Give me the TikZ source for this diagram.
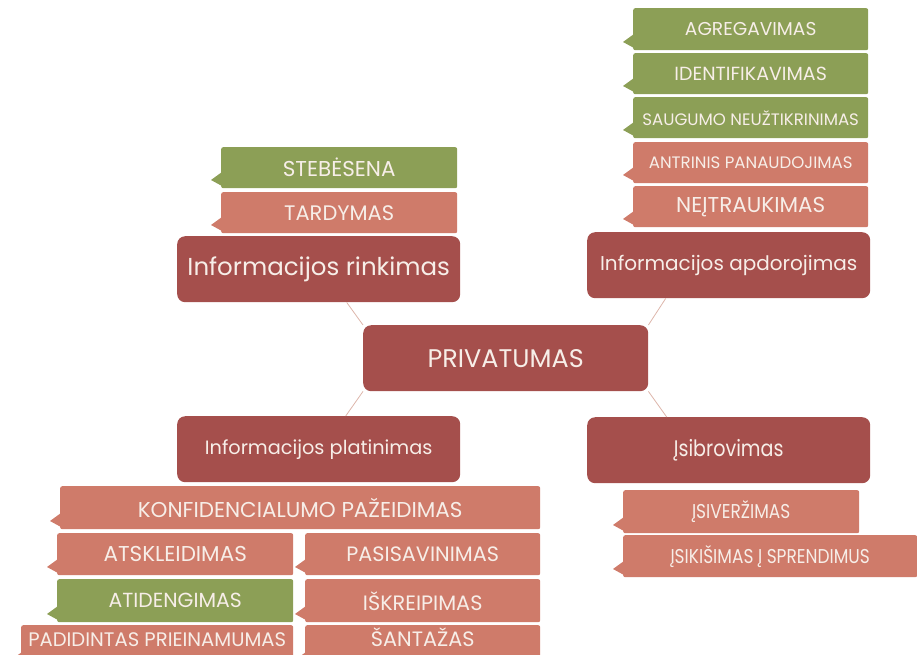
\documentclass[tikz,border=0pt]{standalone}
\usepackage{fontspec}
\setmainfont{Poppins}
\usetikzlibrary{calc}

\definecolor{darkred}{HTML}{A54F4C}
\definecolor{salmon}{HTML}{CF7B6A}
\definecolor{olive}{HTML}{8C9F56}
\definecolor{linkline}{HTML}{DDB6AB}
\definecolor{boxtext}{HTML}{F7EEE8}

\tikzset{
  mainbox/.style={fill=darkred, rounded corners=8pt, text=boxtext, inner sep=0pt},
  tabbox/.style={rounded corners=2pt, text=boxtext, inner sep=0pt},
  link/.style={draw=linkline, line width=0.8pt}
}

% name, colour, left, top, right, bottom, font size, text
\newcommand{\tabnode}[8]{%
  \fill[#2] (#3+1,-#6+2) -- (#3-10,-#6+8) -- (#3+1,-#6+16) -- cycle;
  \node[tabbox, fill=#2, minimum width=#5-#3, minimum height=#6-#4, anchor=north west,
        font=\fontsize{#7}{#7}\selectfont] (#1) at (#3,-#4) {#8};
}
% name, left, top, right, bottom, font size, text
\newcommand{\mainnode}[7]{%
  \node[mainbox, minimum width=#4-#2, minimum height=#5-#3, anchor=north west,
        font=\fontsize{#6}{#6}\selectfont] (#1) at (#2,-#3) {#7};
}
\newcommand{\narrow}[1]{\scalebox{0.85}[1]{#1}}

\begin{document}
\begin{tikzpicture}[x=1pt, y=1pt]
    \useasboundingbox (0,0) rectangle (917,-654);
    % main boxes
    \mainnode{priv}{363}{325}{648}{391}{25.5}{PRIVATUMAS}
    \mainnode{rink}{177}{236}{460}{302}{24.5}{Informacijos rinkimas}
    \mainnode{apd}{587}{232}{870}{298}{20}{Informacijos apdorojimas}
    \mainnode{plat}{177}{416}{460}{482}{19.3}{Informacijos platinimas}
    \mainnode{isib}{587}{417}{870}{483}{22.5}{\narrow{Įsibrovimas}}
    % connectors
    \draw[link] (priv.north west) -- ([xshift=28pt]rink.south);
    \draw[link] (priv.north east) -- ([xshift=-63pt]apd.south);
    \draw[link] (priv.south west) -- ([xshift=27pt]plat.north);
    \draw[link] (priv.south east) -- ([xshift=-62pt]isib.north);
    % collecting
    \tabnode{steb}{olive}{221}{147}{457}{188}{21.5}{STEBĖSENA}
    \tabnode{tard}{salmon}{221}{192}{457}{233}{21}{TARDYMAS}
    % processing
    \tabnode{agreg}{olive}{633}{8}{868}{50}{18.6}{AGREGAVIMAS}
    \tabnode{ident}{olive}{633}{53}{868}{94}{19}{IDENTIFIKAVIMAS}
    \tabnode{saug}{olive}{633}{97}{868}{138}{16.6}{SAUGUMO NEUŽTIKRINIMAS}
    \tabnode{antr}{salmon}{633}{142}{868}{183}{16.6}{ANTRINIS PANAUDOJIMAS}
    \tabnode{neitr}{salmon}{633}{186}{868}{227}{21.5}{NEĮTRAUKIMAS}
    % dissemination
    \tabnode{konf}{salmon}{60}{486}{540}{529}{21.5}{KONFIDENCIALUMO PAŽEIDIMAS}
    \tabnode{atsk}{salmon}{57}{533}{293}{575}{21.5}{ATSKLEIDIMAS}
    \tabnode{pasis}{salmon}{305}{533}{540}{575}{20.8}{PASISAVINIMAS}
    \tabnode{atid}{olive}{57}{579}{293}{622}{20.4}{ATIDENGIMAS}
    \tabnode{iskr}{salmon}{305}{579}{540}{622}{20.8}{IŠKREIPIMAS}
    \tabnode{padid}{salmon}{21}{625}{293}{668}{19.6}{\smash{PADIDINTAS PRIEINAMUMAS}}
    \tabnode{sant}{salmon}{305}{625}{540}{668}{20.8}{\smash{ŠANTAŽAS}}
    % intrusion
    \tabnode{isiv}{salmon}{623}{490}{859}{533}{20}{\narrow{ĮSIVERŽIMAS}}
    \tabnode{isik}{salmon}{623}{535}{917}{577}{20}{\narrow{ĮSIKIŠIMAS Į SPRENDIMUS}}
\end{tikzpicture}
\end{document}
